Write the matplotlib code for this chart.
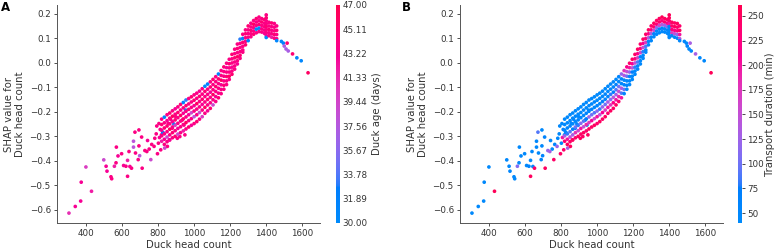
import numpy as np
import matplotlib
matplotlib.use("Agg")
import matplotlib.pyplot as plt
from matplotlib.colors import ListedColormap, Normalize

# sparse points at low head counts (count, shap, age, transport)
low_count = [306, 341, 371, 374, 400, 431, 499, 512, 517, 539, 543, 558, 569, 567, 578, 598,
             609, 622, 631, 631, 639, 644, 653, 664, 672, 664, 675, 694, 694, 698, 690, 712,
             709, 727, 742, 751, 738, 760, 765, 778, 782, 793, 797, 802, 815, 819, 830, 837,
             852, 856, 863, 870, 879, 888, 907, 898, 921, 934, 944, 953, 949,
             805, 812, 808, 790, 826]
low_shap = [-0.613, -0.586, -0.564, -0.487, -0.425, -0.524, -0.396, -0.422, -0.442, -0.465,
            -0.473, -0.422, -0.344, -0.408, -0.380, -0.371, -0.419, -0.422, -0.463, -0.398,
            -0.362, -0.423, -0.430, -0.344, -0.283, -0.320, -0.368, -0.274, -0.339, -0.379,
            -0.395, -0.430, -0.303, -0.358, -0.317, -0.352, -0.362, -0.395, -0.333, -0.341,
            -0.308, -0.258, -0.371, -0.328, -0.355, -0.294, -0.287, -0.348, -0.341, -0.247,
            -0.314, -0.231, -0.267, -0.250, -0.308, -0.220, -0.301, -0.234, -0.254, -0.193, -0.294,
            -0.248, -0.272, -0.305, -0.290, -0.284]
low_age = [41, 43, 43, 43, 40, 42, 39, 43, 43, 44, 44, 42, 44, 44, 43, 44,
           43, 44, 44, 42, 44, 43, 44, 38, 44, 38, 44, 44, 44, 38, 44, 44,
           44, 44, 43, 44, 44, 39, 44, 44, 44, 44, 44, 44, 44, 44, 32, 39,
           44, 44, 44, 44, 44, 32, 44, 44, 44, 44, 44, 32, 44,
           44, 44, 43, 44, 32]
low_time = [50, 50, 50, 50, 50, 255, 50, 50, 55, 50, 50, 110, 50, 50, 50, 50,
            50, 60, 250, 50, 50, 55, 245, 50, 90, 50, 50, 50, 50, 60, 55, 250,
            60, 120, 50, 50, 130, 245, 55, 120, 50, 50, 245, 50, 240, 50, 50, 130,
            250, 50, 240, 50, 60, 50, 250, 50, 245, 55, 70, 50, 250,
            50, 60, 200, 50, 50]

# dense band, one column of points per head count
band_cols = [820, 835, 850, 865, 880, 895, 910, 925, 940, 955, 970, 985, 1000, 1015, 1030,
             1045, 1060, 1075, 1090, 1105, 1120, 1135, 1150, 1165, 1180, 1195, 1210, 1225,
             1240, 1255, 1270, 1285, 1300, 1315, 1330, 1345, 1360, 1375, 1390, 1400, 1415,
             1430, 1445, 1458]
band_shap = [
    [-0.230, -0.252, -0.275, -0.298, -0.320],
    [-0.222, -0.245, -0.266, -0.290, -0.312, -0.333],
    [-0.212, -0.236, -0.258, -0.281, -0.303, -0.322],
    [-0.205, -0.226, -0.249, -0.271, -0.294, -0.315],
    [-0.196, -0.218, -0.240, -0.262, -0.285, -0.306],
    [-0.188, -0.210, -0.233, -0.255, -0.277, -0.300],
    [-0.180, -0.203, -0.224, -0.247, -0.268, -0.291],
    [-0.170, -0.193, -0.215, -0.238, -0.261, -0.285],
    [-0.162, -0.184, -0.206, -0.229, -0.252, -0.278],
    [-0.152, -0.175, -0.198, -0.221, -0.244, -0.270],
    [-0.146, -0.168, -0.190, -0.212, -0.236, -0.262],
    [-0.139, -0.160, -0.182, -0.204, -0.228, -0.255],
    [-0.131, -0.153, -0.175, -0.197, -0.220, -0.248],
    [-0.124, -0.145, -0.167, -0.189, -0.212, -0.240],
    [-0.116, -0.137, -0.158, -0.180, -0.203, -0.230],
    [-0.106, -0.128, -0.149, -0.170, -0.193, -0.220],
    [-0.096, -0.117, -0.138, -0.160, -0.182, -0.206],
    [-0.087, -0.108, -0.129, -0.150, -0.172, -0.196],
    [-0.078, -0.099, -0.120, -0.141, -0.163, -0.186],
    [-0.068, -0.089, -0.110, -0.130, -0.151, -0.172],
    [-0.057, -0.077, -0.097, -0.117, -0.138, -0.158],
    [-0.046, -0.066, -0.085, -0.104, -0.124, -0.143],
    [-0.032, -0.052, -0.071, -0.090, -0.109, -0.126],
    [-0.017, -0.036, -0.055, -0.074, -0.092, -0.108],
    [-0.002, -0.020, -0.038, -0.056, -0.074, -0.089],
    [0.014, -0.004, -0.021, -0.038, -0.055, -0.068],
    [0.034, 0.016, -0.001, -0.018, -0.034, -0.047],
    [0.055, 0.037, 0.020, 0.003, -0.013, -0.026],
    [0.076, 0.058, 0.041, 0.024, 0.008, -0.005],
    [0.096, 0.079, 0.062, 0.045, 0.030, 0.018],
    [0.116, 0.099, 0.083, 0.067, 0.052, 0.043],
    [0.134, 0.118, 0.102, 0.087, 0.073],
    [0.150, 0.134, 0.119, 0.104, 0.090],
    [0.161, 0.146, 0.132, 0.118, 0.106],
    [0.172, 0.157, 0.143, 0.129, 0.116],
    [0.180, 0.166, 0.152, 0.137, 0.122],
    [0.186, 0.171, 0.156, 0.141, 0.127],
    [0.180, 0.166, 0.152, 0.138, 0.125],
    [0.176, 0.161, 0.147, 0.133, 0.120],
    [0.195, 0.183, 0.171, 0.159, 0.147, 0.135, 0.123, 0.111, 0.103],
    [0.165, 0.150, 0.136, 0.122, 0.110],
    [0.162, 0.147, 0.132, 0.118, 0.104],
    [0.160, 0.145, 0.130, 0.115, 0.100],
    [0.150, 0.132, 0.115, 0.098, 0.090],
]
band_age = [
    [44, 45, 43, 44, 42], [32, 44, 45, 44, 43, 44], [44, 43, 45, 44, 39, 44],
    [45, 44, 44, 46, 44, 43], [44, 46, 43, 44, 45, 44], [43, 44, 45, 40, 44, 45],
    [44, 45, 44, 44, 43, 39], [45, 44, 46, 44, 44, 44], [32, 44, 43, 45, 44, 42],
    [33, 45, 44, 44, 46, 44], [44, 44, 45, 43, 44, 45], [45, 44, 44, 39, 44, 43],
    [44, 45, 43, 44, 38, 44], [44, 44, 46, 44, 44, 45], [43, 45, 44, 44, 39, 44],
    [44, 44, 45, 43, 44, 40], [31, 45, 44, 44, 46, 44], [32, 44, 44, 45, 44, 43],
    [44, 45, 43, 44, 44, 45], [45, 44, 44, 46, 44, 39], [44, 44, 45, 44, 43, 44],
    [32, 45, 44, 44, 44, 45], [44, 44, 46, 43, 44, 44], [45, 44, 44, 44, 45, 44],
    [44, 43, 44, 45, 44, 44], [44, 45, 44, 44, 46, 44], [45, 44, 44, 43, 44, 45],
    [44, 44, 45, 44, 44, 44], [44, 45, 44, 46, 44, 43], [33, 44, 44, 44, 45, 44],
    [44, 32, 45, 44, 44, 44], [44, 45, 44, 44, 45], [45, 44, 44, 44, 32],
    [44, 44, 45, 44, 44], [44, 46, 44, 44, 45], [45, 44, 44, 31, 44],
    [44, 44, 45, 32, 44], [44, 45, 44, 44, 44], [45, 44, 44, 44, 43],
    [44, 45, 44, 44, 45, 44, 44, 43, 31], [44, 44, 45, 44, 44], [45, 44, 44, 44, 42],
    [44, 44, 44, 45, 44], [44, 45, 44, 44, 31],
]
band_time = [
    [50, 50, 60, 130, 240], [45, 50, 55, 80, 200, 250], [50, 45, 60, 90, 150, 245],
    [45, 50, 50, 70, 130, 250], [50, 50, 55, 100, 180, 240], [45, 50, 60, 80, 160, 250],
    [50, 50, 55, 110, 200, 245], [45, 55, 50, 90, 150, 250], [50, 45, 60, 70, 190, 240],
    [45, 50, 55, 120, 170, 255], [50, 50, 65, 100, 210, 245], [45, 55, 50, 90, 160, 250],
    [50, 45, 60, 110, 200, 240], [45, 50, 55, 80, 150, 250], [50, 50, 70, 120, 210, 245],
    [45, 55, 60, 100, 170, 250], [50, 50, 65, 130, 200, 240], [45, 50, 80, 110, 180, 250],
    [50, 55, 70, 140, 220, 245], [50, 60, 90, 130, 200, 250], [55, 50, 100, 150, 190, 240],
    [120, 60, 50, 140, 90, 200], [180, 140, 50, 60, 100, 55], [220, 150, 100, 50, 60, 50],
    [240, 200, 120, 60, 50, 45], [250, 210, 140, 70, 50, 50], [245, 230, 150, 80, 50, 45],
    [250, 220, 170, 90, 55, 50], [240, 230, 160, 70, 50, 50], [250, 210, 150, 80, 50, 45],
    [245, 230, 170, 90, 55, 50], [250, 220, 140, 60, 50], [240, 230, 130, 55, 50],
    [250, 240, 150, 60, 45], [245, 230, 120, 50, 50], [250, 240, 160, 55, 45],
    [255, 230, 140, 60, 50], [250, 240, 120, 50, 50], [245, 220, 110, 55, 45],
    [255, 250, 240, 200, 60, 50, 50, 45, 50], [250, 240, 230, 170, 60], [245, 250, 220, 150, 50],
    [250, 240, 230, 120, 55], [240, 250, 200, 140, 50],
]

# points past the peak
tail_count = [1484, 1495, 1500, 1516, 1510, 1522, 1546, 1570, 1594, 1632]
tail_shap = [0.087, 0.080, 0.068, 0.080, 0.056, 0.048, 0.036, 0.020, 0.008, -0.041]
tail_age = [31, 32, 37, 45, 37, 37, 45, 31, 31, 46]
tail_time = [50, 50, 55, 130, 50, 55, 130, 50, 50, 255]

age_ticks = np.linspace(30, 47, 10)


def shap_red_blue():
    # blue -> red through purple, interpolated in Lch like shap's colormap
    n = 256
    L = 54.0
    C = np.linspace(70.0, 90.0, n)
    H = np.linspace(4.6588, 0.35470565 + 2 * np.pi, n)
    a, b = C * np.cos(H), C * np.sin(H)
    fy = (L + 16) / 116
    fx, fz = fy + a / 500, fy - b / 200

    def finv(t):
        return np.where(t ** 3 > 0.008856, t ** 3, (t - 16 / 116) / 7.787)

    X, Y, Z = 0.95047 * finv(fx), finv(fy) * np.ones(n), 1.08883 * finv(fz)
    rgb = np.stack([3.2406 * X - 1.5372 * Y - 0.4986 * Z,
                    -0.9689 * X + 1.8758 * Y + 0.0415 * Z,
                    0.0557 * X - 0.2040 * Y + 1.0570 * Z], axis=1)
    rgb = np.clip(rgb, 0, None)
    rgb = np.where(rgb > 0.0031308, 1.055 * rgb ** (1 / 2.4) - 0.055, 12.92 * rgb)
    return ListedColormap(np.clip(rgb, 0, 1))


cmap = shap_red_blue()

sizes = [len(c) for c in band_shap]
count = np.concatenate([low_count, np.repeat(band_cols, sizes), tail_count])
shap_val = np.concatenate([low_shap, np.concatenate(band_shap), tail_shap])
age = np.concatenate([low_age, np.concatenate(band_age), tail_age])
transport = np.concatenate([low_time, np.concatenate(band_time), tail_time])

axis_color = "#333333"
tick_fs = 6.3
label_fs = 7.3

fig = plt.figure(figsize=(7.77, 2.5), dpi=100)


def dependence(ax, cax, values, norm, label, ticks=None, fmt=None, tick_len=0, pad=3):
    sc = ax.scatter(count, shap_val, c=values, cmap=cmap, norm=norm, s=7, linewidths=0)
    ax.set_xlabel("Duck head count", fontsize=label_fs, color=axis_color, labelpad=1)
    ax.set_ylabel("SHAP value for\nDuck head count", fontsize=label_fs, color=axis_color, labelpad=3)
    ax.spines["top"].set_visible(False)
    ax.spines["right"].set_visible(False)
    for s in ("left", "bottom"):
        ax.spines[s].set_color("#555555")
        ax.spines[s].set_linewidth(0.7)
    ax.tick_params(labelsize=tick_fs, color=axis_color, labelcolor=axis_color,
                   length=2.5, width=0.6, pad=2)
    ax.set_xticks([400, 600, 800, 1000, 1200, 1400, 1600])
    ax.set_yticks([-0.6, -0.5, -0.4, -0.3, -0.2, -0.1, 0.0, 0.1, 0.2])
    cb = fig.colorbar(sc, cax=cax, ticks=ticks, format=fmt)
    cb.outline.set_visible(False)
    cb.ax.tick_params(labelsize=tick_fs, labelcolor=axis_color, length=tick_len, width=0.5, pad=2)
    cb.set_label(label, fontsize=label_fs, color=axis_color, labelpad=pad)


axA = fig.add_axes([57 / 777, 27 / 250, 263 / 777, 218 / 250])
caxA = fig.add_axes([336 / 777, 27 / 250, 3.5 / 777, 218 / 250])
dependence(axA, caxA, age, Normalize(30, 47), "Duck age (days)", ticks=age_ticks, fmt="%.2f")

axB = fig.add_axes([460 / 777, 27 / 250, 263 / 777, 218 / 250])
caxB = fig.add_axes([738 / 777, 27 / 250, 3.5 / 777, 218 / 250])
dependence(axB, caxB, transport, Normalize(40, 261), "Transport duration (min)",
           ticks=[50, 75, 100, 125, 150, 175, 200, 225, 250], tick_len=2, pad=1)

fig.text(1 / 777, 1 - 1 / 250, "A", fontsize=8.5, fontweight="bold", va="top", ha="left")
fig.text(402 / 777, 1 - 1 / 250, "B", fontsize=8.5, fontweight="bold", va="top", ha="left")

fig.savefig("out.png", dpi=100)
